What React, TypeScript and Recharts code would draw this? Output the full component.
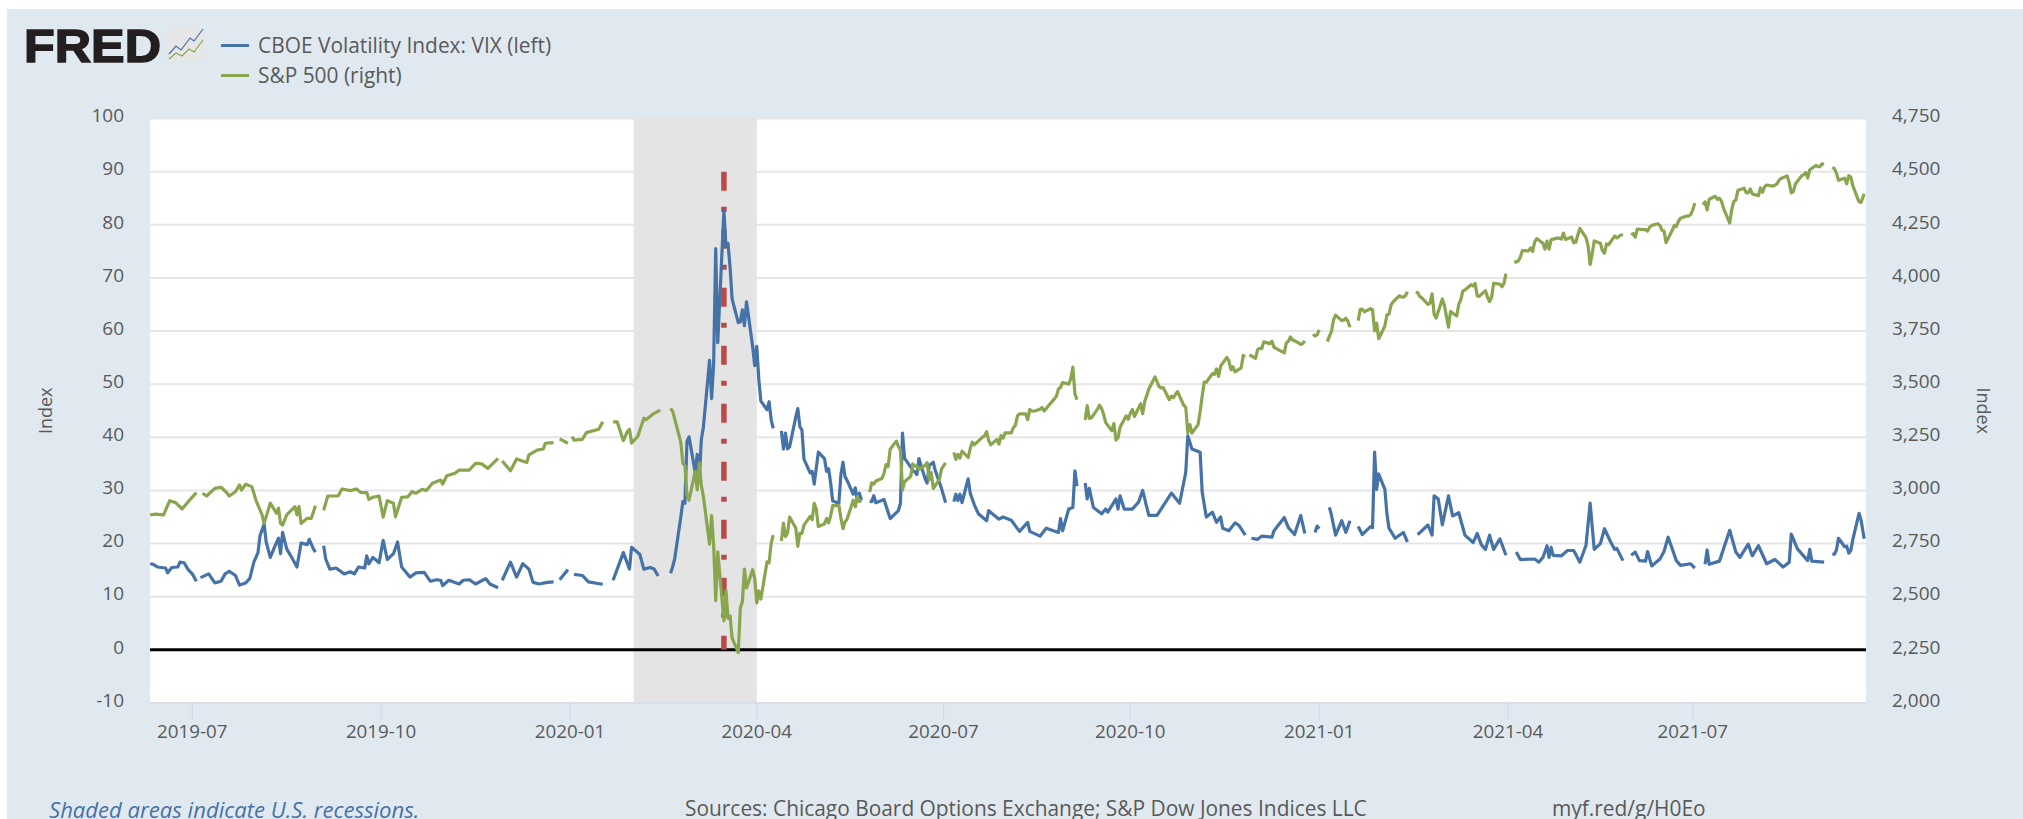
import {
  LineChart,
  Line,
  XAxis,
  YAxis,
  CartesianGrid,
  ReferenceArea,
  ReferenceLine,
  Legend,
} from 'recharts';

type Point = [number, number | null];

// x values are calendar days since 2019-07-01, null marks a holiday gap in the source data
const vixPoints: Point[] = [
  [-20.5, 16.2], [-19, 16.1], [-17, 15.6], [-13, 15.4], [-12, 14.5], [-10, 15.5], [-7, 15.6], [-6, 16.5], [-4, 16.4], [-2, 15.1], [0, 14.3], [2, 12.9], [3, null],
  [4, 13.6], [8, 14.3], [11, 12.6], [14, 12.9], [16, 14.3], [18, 14.8], [21, 14.0], [23, 12.2], [26, 12.6], [28, 13.4], [30, 16.5], [32, 18.3], [33, 21.5], [35, 23.7], [36, 20.3], [38, 17.4], [40, 19.3], [42, 21.0], [43, 18.1], [44, 22.1], [46, 19.0], [48, 17.7], [51, 15.6], [53, 20.1], [56, 19.8], [57, 20.8], [59, 19.0], [60, 18.4], [63, null],
  [64, 19.6], [65, 17.1], [67, 15.2], [70, 15.4], [74, 14.3], [77, 14.7], [79, 14.3], [81, 15.6], [84, 15.4], [85, 17.7], [86, 16.2], [88, 17.4], [91, 16.4], [93, 20.6], [95, 17.0], [98, 18.1], [100, 20.3], [102, 15.6], [106, 13.7], [109, 14.5], [113, 14.6], [116, 12.9], [119, 13.2], [121, 13.1], [122, 12.1], [125, 13.1], [130, 12.4], [132, 13.1], [135, 13.2], [138, 12.4], [143, 13.4], [145, 12.4], [149, 11.7], [150, null],
  [151, 13.1], [155, 16.5], [158, 13.7], [161, 16.2], [164, 15.2], [166, 12.7], [169, 12.4], [173, 12.7], [176, 12.8], [177, null],
  [179, 13.2], [183, 15.1], [184, null],
  [186, 14.2], [190, 14.0], [193, 12.8], [199, 12.4], [200, 12.4], [203, null],
  [205, 13.1], [210, 18.3], [213, 15.2], [214, 19.3], [218, 18.0], [220, 15.2], [223, 15.5], [225, 15.2], [227, 13.9], [231, null],
  [233, 14.4], [234, 15.6], [235, 17.1], [238, 25.0], [239, 27.9], [240, 27.6], [241, 39.2], [242, 40.1], [245, 33.4], [246, 36.8], [247, 32.0], [248, 39.6], [249, 41.9], [252, 54.5], [253, 47.3], [254, 53.9], [255, 75.5], [256, 57.8], [259, 82.7], [260, 75.9], [261, 76.5], [262, 72.0], [263, 66.0], [266, 61.6], [267, 61.7], [268, 64.0], [269, 61.0], [270, 65.5], [273, 57.1], [274, 53.5], [275, 57.1], [276, 50.9], [277, 46.8], [280, 45.2], [281, 46.7], [282, 43.4], [283, 41.7], [284, null],
  [287, 41.2], [288, 37.8], [289, 40.8], [290, 37.8], [291, 38.2], [294, 43.8], [295, 45.4], [296, 42.0], [297, 41.4], [298, 35.9], [301, 33.3], [302, 33.6], [303, 31.2], [304, 34.2], [305, 37.2], [308, 36.0], [309, 33.6], [310, 34.1], [311, 31.4], [312, 28.0], [315, 27.6], [316, 33.0], [317, 35.3], [318, 32.6], [319, 31.9], [322, 29.3], [323, 30.5], [324, 28.0], [325, 29.5], [326, 28.2], [329, null],
  [330, 28.0], [331, 27.9], [332, 29.0], [333, 27.7], [337, 28.3], [339, 25.9], [340, 24.7], [344, 26.2], [345, 27.6], [346, 40.8], [347, 36.1], [350, 34.4], [351, 33.7], [352, 33.5], [353, 33.0], [354, 36.0], [357, 32.2], [358, 31.4], [359, 34.7], [361, 35.3], [362, 33.7], [365, 30.4], [367, 27.7], [368, null],
  [371, 27.9], [372, 29.3], [373, 28.1], [374, 29.3], [375, 27.7], [378, 32.2], [379, 29.5], [380, 28.4], [381, 27.3], [383, 25.6], [387, 24.3], [388, 26.2], [393, 24.6], [395, 25.0], [399, 24.4], [403, 22.3], [407, 24.0], [408, 22.3], [413, 21.4], [416, 22.9], [422, 22.1], [423, 24.7], [424, 22.4], [427, 26.5], [429, 26.8], [430, 33.7], [431, 30.8], [434, null],
  [435, 31.4], [436, 28.4], [437, 30.4], [439, 26.8], [443, 25.6], [445, 26.5], [446, 25.9], [450, 28.4], [451, 26.5], [452, 29.0], [454, 26.5], [458, 26.5], [461, 27.8], [463, 30.0], [466, 25.3], [470, 25.3], [477, 29.5], [481, 27.6], [484, 33.4], [485, 40.3], [487, 37.8], [491, 37.2], [492, 29.7], [494, 25.0], [497, 25.9], [499, 24.0], [501, 25.0], [502, 22.9], [505, 22.4], [508, 23.9], [510, 23.4], [513, 21.6], [514, null],
  [516, 21.0], [519, 20.8], [521, 21.4], [526, 21.2], [527, 22.4], [532, 24.9], [534, 23.0], [537, 21.7], [540, 25.3], [542, 21.9], [543, null],
  [547, 22.1], [548, 23.3], [549, 22.8], [550, null],
  [554, 26.8], [555, 25.3], [557, 21.6], [560, 24.3], [562, 22.1], [564, 24.3], [567, null],
  [568, 23.2], [570, 21.7], [574, 23.2], [575, 23.0], [576, 37.2], [577, 30.2], [578, 33.1], [581, 30.2], [582, 25.6], [583, 22.9], [586, 21.0], [590, 22.1], [592, 20.3], [595, null],
  [597, 21.7], [602, 23.5], [604, 21.6], [605, 29.0], [607, 28.4], [609, 23.5], [612, 29.0], [614, 25.2], [617, 25.8], [620, 21.6], [624, 20.2], [626, 21.9], [628, 19.8], [630, 18.9], [632, 21.6], [634, 18.9], [637, 20.9], [640, 17.8], [641, null],
  [645, 18.4], [647, 17.0], [654, 17.1], [656, 16.5], [658, 17.4], [660, 19.6], [661, 17.4], [662, 19.3], [663, 17.8], [667, 17.7], [670, 18.7], [673, 18.7], [676, 16.5], [679, 19.7], [681, 27.6], [683, 18.9], [686, 20.0], [688, 22.8], [691, 20.3], [693, 18.9], [694, 19.1], [697, 16.8], [700, null],
  [701, 17.8], [703, 18.4], [705, 16.8], [708, 16.7], [709, 18.5], [711, 15.8], [715, 17.1], [717, 18.5], [719, 21.2], [723, 16.8], [725, 15.9], [730, 16.2], [732, 15.4], [735, null],
  [737, 16.1], [738, 18.8], [739, 16.1], [744, 16.7], [749, 22.5], [752, 18.4], [754, 17.4], [758, 19.9], [760, 17.7], [763, 19.6], [767, 16.2], [771, 17.0], [775, 15.6], [778, 16.5], [779, 21.8], [782, 19.0], [787, 16.8], [788, 18.9], [789, 16.7], [795, 16.5], [798, null],
  [799, 18.1], [800, 18.0], [801, 18.8], [802, 21.0], [805, 19.4], [806, 19.5], [807, 18.2], [808, 18.7], [809, 20.8], [812, 25.7], [813, 24.4], [814.5, 20.9],
];

const spxPoints: Point[] = [
  [-20.5, 2885], [-18, 2889], [-14, 2885], [-11, 2952], [-8, 2942], [-5, 2913], [-1, 2958], [2, 2990], [3, null],
  [5, 2987], [7, 2974], [11, 3010], [14, 3015], [17, 2987], [18, 2974], [21, 2994], [23, 3026], [24, 3002], [26, 3029], [29, 3018], [31, 2955], [34, 2885], [35, 2845], [38, 2940], [41, 2893], [42, 2917], [43, 2845], [44, 2837], [46, 2885], [50, 2924], [51, 2885], [52, 2924], [53, 2845], [56, 2869], [58, 2869], [60, 2928], [63, null],
  [64, 2907], [66, 2974], [71, 2974], [73, 3007], [77, 2999], [80, 3007], [82, 2991], [85, 2990], [86, 2958], [88, 2968], [91, 2974], [93, 2874], [95, 2952], [98, 2940], [99, 2876], [102, 2968], [105, 2970], [107, 2994], [109, 2987], [112, 3005], [114, 3000], [117, 3034], [121, 3049], [122, 3030], [124, 3069], [128, 3081], [130, 3096], [135, 3096], [138, 3128], [141, 3125], [144, 3104], [149, 3151], [150, null],
  [151, 3139], [155, 3093], [158, 3148], [163, 3132], [164, 3167], [168, 3190], [171, 3195], [172, 3222], [176, 3225], [177, null],
  [179, 3243], [183, 3222], [184, null],
  [185, 3253], [186, 3237], [190, 3240], [192, 3272], [198, 3288], [200, 3323], [203, null],
  [205, 3323], [207, 3323], [210, 3234], [212, 3278], [213, 3288], [214, 3223], [217, 3254], [220, 3340], [221, 3333], [225, 3363], [228, 3378], [231, null],
  [233, 3386], [234, 3373], [235, 3338], [238, 3226], [239, 3128], [240, 3116], [241, 2979], [242, 2954], [245, 3090], [246, 3003], [247, 3130], [248, 3024], [249, 2972], [252, 2747], [253, 2882], [254, 2741], [255, 2481], [256, 2711], [259, 2386], [260, 2529], [261, 2398], [262, 2409], [263, 2305], [266, 2237], [267, 2447], [268, 2476], [269, 2630], [270, 2541], [273, 2627], [274, 2585], [275, 2471], [276, 2527], [277, 2489], [280, 2664], [281, 2659], [282, 2750], [283, 2790], [284, null],
  [287, 2762], [288, 2846], [289, 2783], [290, 2800], [291, 2875], [294, 2823], [295, 2737], [296, 2799], [297, 2798], [298, 2837], [301, 2878], [302, 2863], [303, 2939], [304, 2912], [305, 2830], [308, 2843], [309, 2868], [310, 2848], [311, 2881], [312, 2929], [315, 2930], [316, 2870], [317, 2820], [318, 2852], [319, 2864], [322, 2954], [323, 2923], [324, 2972], [325, 2948], [326, 2955], [329, null],
  [330, 2992], [331, 3036], [332, 3030], [333, 3044], [336, 3056], [337, 3081], [338, 3122], [339, 3112], [340, 3194], [343, 3232], [344, 3207], [345, 3190], [346, 3002], [347, 3041], [350, 3067], [351, 3125], [352, 3114], [353, 3115], [354, 3098], [357, 3118], [358, 3131], [359, 3050], [360, 3084], [361, 3009], [364, 3053], [365, 3100], [366, 3116], [367, 3130], [368, null],
  [371, 3179], [372, 3146], [373, 3170], [374, 3152], [375, 3185], [378, 3155], [379, 3197], [380, 3227], [381, 3215], [382, 3224], [385, 3251], [386, 3257], [387, 3276], [388, 3235], [389, 3215], [392, 3240], [393, 3218], [394, 3258], [395, 3246], [396, 3271], [399, 3271], [400, 3295], [401, 3307], [402, 3351], [403, 3360], [406, 3360], [407, 3333], [408, 3380], [409, 3374], [410, 3373], [413, 3382], [414, 3390], [415, 3374], [416, 3385], [417, 3397], [420, 3431], [421, 3444], [422, 3478], [423, 3485], [424, 3508], [427, 3500], [428, 3526], [429, 3580], [430, 3455], [431, 3427], [434, null],
  [435, 3332], [436, 3399], [437, 3339], [438, 3341], [441, 3383], [442, 3401], [443, 3385], [444, 3357], [445, 3319], [448, 3281], [449, 3315], [450, 3237], [451, 3247], [452, 3298], [455, 3351], [456, 3335], [457, 3363], [458, 3381], [459, 3348], [462, 3408], [463, 3361], [464, 3419], [465, 3446], [466, 3477], [469, 3534], [470, 3512], [471, 3489], [472, 3483], [473, 3484], [476, 3427], [477, 3444], [478, 3436], [479, 3453], [480, 3465], [483, 3401], [484, 3391], [485, 3271], [486, 3310], [487, 3270], [490, 3310], [491, 3370], [492, 3443], [493, 3510], [494, 3509], [497, 3550], [498, 3546], [499, 3572], [500, 3537], [501, 3585], [504, 3626], [505, 3610], [506, 3568], [507, 3582], [508, 3558], [511, 3577], [512, 3635], [513, 3629], [514, null],
  [515, 3638], [518, 3622], [519, 3662], [520, 3669], [521, 3667], [522, 3699], [525, 3691], [526, 3702], [527, 3673], [528, 3669], [529, 3663], [532, 3647], [533, 3695], [534, 3702], [535, 3722], [536, 3709], [539, 3694], [540, 3687], [541, 3691], [542, 3703], [543, null],
  [546, 3735], [547, 3727], [548, 3732], [549, 3756], [550, null],
  [553, 3700], [554, 3726], [555, 3748], [556, 3803], [557, 3825], [560, 3799], [561, 3802], [562, 3810], [563, 3796], [564, 3768], [567, null],
  [568, 3799], [569, 3852], [570, 3853], [571, 3841], [574, 3855], [575, 3850], [576, 3751], [577, 3787], [578, 3714], [581, 3774], [582, 3826], [583, 3830], [584, 3872], [585, 3887], [588, 3916], [589, 3911], [590, 3909], [591, 3916], [592, 3935], [595, null],
  [596, 3932], [597, 3931], [598, 3913], [599, 3906], [602, 3876], [603, 3881], [604, 3925], [605, 3829], [606, 3811], [609, 3901], [610, 3870], [611, 3819], [612, 3768], [613, 3842], [616, 3821], [617, 3875], [618, 3898], [619, 3939], [620, 3943], [623, 3968], [624, 3962], [625, 3974], [626, 3915], [627, 3913], [630, 3940], [631, 3910], [632, 3889], [633, 3909], [634, 3975], [637, 3971], [638, 3958], [639, 3973], [640, 4020], [641, null],
  [644, 4077], [645, 4074], [646, 4080], [647, 4097], [648, 4129], [651, 4127], [652, 4141], [653, 4125], [654, 4170], [655, 4185], [658, 4163], [659, 4135], [660, 4173], [661, 4135], [662, 4180], [665, 4187], [666, 4187], [667, 4183], [668, 4211], [669, 4181], [672, 4192], [673, 4165], [674, 4168], [675, 4202], [676, 4233], [679, 4189], [680, 4152], [681, 4063], [682, 4113], [683, 4174], [686, 4163], [687, 4128], [688, 4116], [689, 4160], [690, 4156], [693, 4197], [694, 4188], [695, 4195], [696, 4201], [697, 4204], [700, null],
  [701, 4202], [702, 4208], [703, 4192], [704, 4230], [707, 4227], [708, 4227], [709, 4220], [710, 4239], [711, 4247], [714, 4255], [715, 4247], [716, 4224], [717, 4221], [718, 4166], [721, 4224], [722, 4247], [723, 4242], [724, 4266], [725, 4281], [728, 4291], [729, 4291], [730, 4298], [731, 4320], [732, 4352], [735, null],
  [736, 4344], [737, 4358], [738, 4320], [739, 4370], [742, 4384], [743, 4369], [744, 4375], [745, 4360], [746, 4327], [749, 4258], [750, 4323], [751, 4359], [752, 4367], [753, 4412], [756, 4422], [757, 4401], [758, 4400], [759, 4419], [760, 4395], [763, 4387], [764, 4423], [765, 4403], [766, 4429], [767, 4437], [770, 4432], [771, 4436], [772, 4442], [773, 4460], [774, 4468], [777, 4480], [778, 4448], [779, 4400], [780, 4406], [781, 4442], [784, 4480], [785, 4486], [786, 4496], [787, 4470], [788, 4509], [791, 4529], [792, 4523], [793, 4524], [794, 4537], [795, 4535], [798, null],
  [799, 4520], [800, 4514], [801, 4493], [802, 4459], [805, 4469], [806, 4443], [807, 4481], [808, 4474], [809, 4433], [812, 4358], [813, 4355], [814.5, 4396],
];

const monthTicks = [0, 92, 184, 275, 366, 457, 549, 641, 731];
const monthLabels = ['2019-07', '2019-10', '2020-01', '2020-04', '2020-07', '2020-10', '2021-01', '2021-04', '2021-07'];
const leftTicks = [-10, 0, 10, 20, 30, 40, 50, 60, 70, 80, 90, 100];
const rightTicks = [2000, 2250, 2500, 2750, 3000, 3250, 3500, 3750, 4000, 4250, 4500, 4750];

const recessionStart = 215; // 2020-02-01
const recessionEnd = 275; // 2020-04-01
const vixPeakDay = 259; // 2020-03-16

const FONT = '"Open Sans", sans-serif';
const TEXT = '#595959';
const BLUE = '#4572a7';
const GREEN = '#89a54e';

const vixData = vixPoints.map(([day, vix]) => ({ day, vix }));
const spxData = spxPoints.map(([day, spx]) => ({ day, spx }));

function ChartLegend() {
  const rows = [
    { color: BLUE, label: 'CBOE Volatility Index: VIX (left)' },
    { color: GREEN, label: 'S&P 500 (right)' },
  ];
  return (
    <div style={{ fontFamily: FONT, fontSize: 20.9, color: TEXT, whiteSpace: 'nowrap' }}>
      {rows.map((row) => (
        <div key={row.label} style={{ display: 'flex', alignItems: 'center', height: 30 }}>
          <span style={{ width: 28, height: 3, background: row.color, marginRight: 9 }} />
          {row.label}
        </div>
      ))}
    </div>
  );
}

function FredLogo() {
  return (
    <svg width={200} height={70} style={{ position: 'absolute', left: 15, top: 7 }}>
      <text
        x={2}
        y={46}
        fontFamily='"Liberation Sans", sans-serif'
        fontWeight={700}
        fontSize={47}
        fill="#231f20"
        stroke="#231f20"
        strokeWidth={1.5}
        textLength={137}
        lengthAdjust="spacingAndGlyphs"
      >
        FRED
      </text>
      <rect x={145.5} y={12} width={37} height={34} rx={3} fill="#e6e6e6" />
      <polyline points="147,38 154,30 159,34 168,22 172,25 181,13" fill="none" stroke={BLUE} strokeWidth={1.2} />
      <polyline points="147,43 154,37 160,40 167,33 172,36 181,24" fill="none" stroke={GREEN} strokeWidth={1.2} />
    </svg>
  );
}

const footerStyle = {
  position: 'absolute',
  top: 789,
  fontFamily: FONT,
  fontSize: 20.9,
  lineHeight: 1,
  color: TEXT,
  whiteSpace: 'nowrap',
} as const;

export default function App() {
  return (
    <div
      style={{
        position: 'absolute',
        left: 7,
        top: 9,
        width: 2016,
        height: 810,
        background: '#e1e9f0',
        overflow: 'hidden',
      }}
    >
      <FredLogo />
      <LineChart width={2016} height={810} margin={{ top: 109.5, right: 0, bottom: 0, left: 0 }}>
        <CartesianGrid horizontal vertical={false} stroke="#e6e6e6" strokeWidth={2} fill="#ffffff" yAxisId="left" />
        <XAxis
          dataKey="day"
          type="number"
          domain={[-20.6, 815.4]}
          ticks={monthTicks}
          tickFormatter={(day: number) => monthLabels[monthTicks.indexOf(day)]}
          allowDataOverflow
          height={116}
          tickSize={17}
          tickMargin={5}
          tick={{ fontFamily: FONT, fontSize: 18.8, fill: TEXT }}
          stroke="#ccd6eb"
        />
        <YAxis
          yAxisId="left"
          width={143}
          domain={[-10, 100]}
          ticks={leftTicks}
          interval={0}
          axisLine={false}
          tickLine={false}
          tickMargin={20}
          tick={{ fontFamily: FONT, fontSize: 19, fill: TEXT, dy: -3 }}
          label={{ value: 'Index', angle: -90, position: 'insideLeft', offset: 39, style: { fontFamily: FONT, fontSize: 18, fill: TEXT, textAnchor: 'middle' } }}
        />
        <YAxis
          yAxisId="right"
          orientation="right"
          width={157}
          domain={[2000, 4750]}
          ticks={rightTicks}
          interval={0}
          axisLine={false}
          tickLine={false}
          tickMargin={20}
          tickFormatter={(v: number) => v.toLocaleString('en-US')}
          tick={{ fontFamily: FONT, fontSize: 19, fill: TEXT, dy: -3 }}
          label={{ value: 'Index', angle: 90, position: 'insideRight', offset: 40, style: { fontFamily: FONT, fontSize: 18, fill: TEXT, textAnchor: 'middle' } }}
        />
        <ReferenceArea yAxisId="left" x1={recessionStart} x2={recessionEnd} fill="#e4e4e4" fillOpacity={1} stroke="none" />
        <ReferenceLine yAxisId="left" y={0} stroke="#000000" strokeWidth={3} />
        <ReferenceLine
          yAxisId="left"
          segment={[{ x: vixPeakDay, y: 90 }, { x: vixPeakDay, y: 0 }]}
          stroke="#b84a4a"
          strokeWidth={5.5}
          strokeDasharray="19 16 5 18"
        />
        <Line
          yAxisId="left"
          data={vixData}
          dataKey="vix"
          name="CBOE Volatility Index: VIX (left)"
          stroke={BLUE}
          strokeWidth={3.2}
          strokeLinejoin="round"
          dot={false}
          connectNulls={false}
          isAnimationActive={false}
        />
        <Line
          yAxisId="right"
          data={spxData}
          dataKey="spx"
          name="S&P 500 (right)"
          stroke={GREEN}
          strokeWidth={3.2}
          strokeLinejoin="round"
          dot={false}
          connectNulls={false}
          isAnimationActive={false}
        />
        <Legend
          content={<ChartLegend />}
          layout="vertical"
          align="center"
          verticalAlign="middle"
          wrapperStyle={{ left: 214, top: 21, width: 400 }}
        />
      </LineChart>
      <div style={{ ...footerStyle, left: 42, fontSize: 22.1, fontStyle: 'italic', color: BLUE }}>
        Shaded areas indicate U.S. recessions.
      </div>
      <div style={{ ...footerStyle, left: 678 }}>
        Sources: Chicago Board Options Exchange; S&amp;P Dow Jones Indices LLC
      </div>
      <div style={{ ...footerStyle, left: 1545 }}>myf.red/g/H0Eo</div>
    </div>
  );
}
